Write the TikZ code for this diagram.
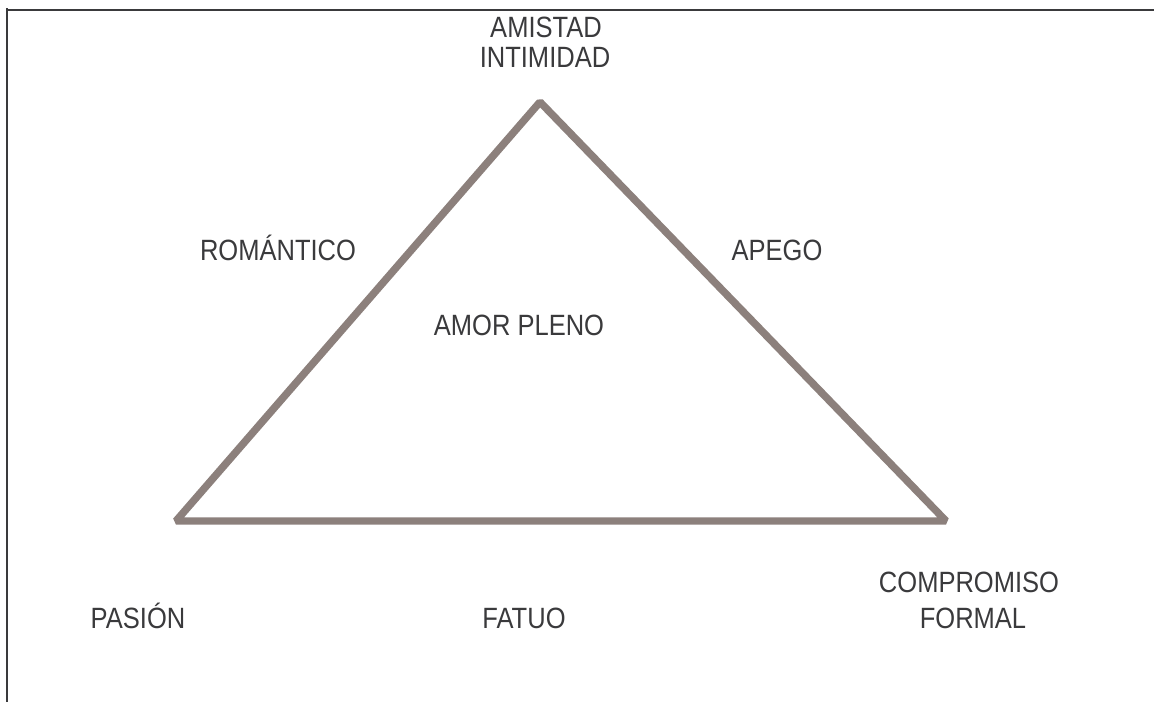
\documentclass[tikz,border=0pt]{standalone}
\usepackage{fontspec}
\setmainfont[FakeStretch=0.87]{Liberation Sans}
\usepackage{tikz}
\usetikzlibrary{positioning}
\definecolor{sidegray}{HTML}{8C807C}
\definecolor{textgray}{HTML}{3A3A3C}

\begin{document}
\begin{tikzpicture}[x=0.75pt,y=-0.75pt,
	label/.style={anchor=base,inner sep=0pt,text=textgray,font=\fontsize{22pt}{26pt}\selectfont},
	side/.style={draw=sidegray,line width=5.6pt,line join=bevel}]
	\useasboundingbox (0,0) rectangle (1154,702);
	% frame lines
	\draw[textgray,line width=2.2pt] (7,702) -- (7,8) (7,10) -- (1154,10);
	% corners of the triangle
	\coordinate (top) at (540,102);
	\coordinate (left) at (176,521);
	\coordinate (right) at (946,521);
	\draw[side] (top) -- (right) -- (left) -- cycle;
	% labels
	\node[label] (amistad) at (546,38) {AMISTAD};
	\node[label] (intimidad) at (545,68) {INTIMIDAD};
	\node[label] (romantico) at (278,261) {ROMÁNTICO};
	\node[label] (apego) at (777,261) {APEGO};
	\node[label] (pleno) at (519,336) {AMOR PLENO};
	\node[label] (pasion) at (138,628) {PASIÓN};
	\node[label] (fatuo) at (524,628) {FATUO};
	\node[label] (compromiso) at (969,592) {COMPROMISO};
	\node[label] (formal) at (973,628) {FORMAL};
\end{tikzpicture}
\end{document}
